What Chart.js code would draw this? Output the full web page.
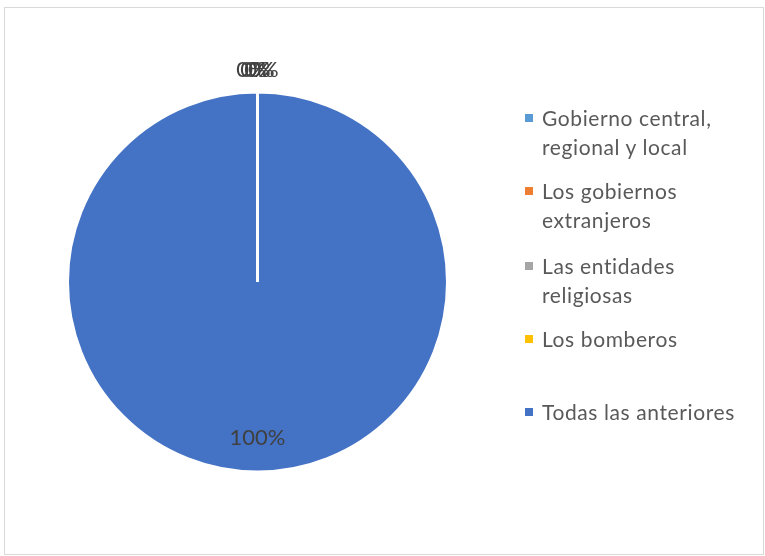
<!DOCTYPE html>
<html>
<head>
<meta charset="utf-8">
<script src="https://cdn.jsdelivr.net/npm/chart.js@4"></script>
<style>
  body { margin: 0; background: #fff; }
  #wrap { position: relative; width: 765px; height: 556px; }
  #frame { position: absolute; left: 4px; top: 7px; width: 760px; height: 548px; box-sizing: border-box; border: 1px solid #d9d9d9; }
  #chart { position: absolute; left: 0; top: 0; }
  #legend { position: absolute; left: 525px; top: 103px; margin: 0; padding: 0; list-style: none;
            font-family: Lato, "Open Sans", sans-serif; font-size: 21px; letter-spacing: 0.6px; color: #595959; }
  #legend li { position: relative; padding-left: 17px; line-height: 29px; }
  #legend li span.box { position: absolute; left: 0; top: 11px; width: 8px; height: 8px; }
</style>
</head>
<body>
<div id="wrap">
  <div id="frame"></div>
  <canvas id="chart" width="765" height="556"></canvas>
  <ul id="legend"></ul>
</div>
<script>
// categorias y valores (porcentaje)
const categorias = [
  ['Gobierno central,', 'regional y local'],
  ['Los gobiernos', 'extranjeros'],
  ['Las entidades', 'religiosas'],
  ['Los bomberos'],
  ['Todas las anteriores']
];
const valores = [0, 0, 0, 0, 100];
const colores = ['#5B9BD5', '#ED7D31', '#A5A5A5', '#FFC000', '#4472C4'];
// espacio entre entradas de la leyenda (px)
const legendGaps = [15, 17, 15, 44, 0];

// etiquetas de datos tipo Excel
const etiquetas = {
  id: 'etiquetas',
  afterDatasetsDraw(chart) {
    const ctx = chart.ctx;
    const meta = chart.getDatasetMeta(0);
    ctx.save();
    ctx.font = '22px Lato, "Open Sans", sans-serif';
    ctx.fillStyle = '#404040';
    ctx.textAlign = 'center';
    ctx.textBaseline = 'middle';
    meta.data.forEach((arc, i) => {
      const v = valores[i];
      const mid = (arc.startAngle + arc.endAngle) / 2;
      let r, dx = 0;
      if (v === 0) {
        r = arc.outerRadius + 22;
        dx = (i - 1.5) * 4;   // Excel apila los 0% con un pequeño desfase
      } else {
        r = arc.outerRadius * 0.82;
      }
      const x = arc.x + Math.cos(mid) * r + dx;
      const y = arc.y + Math.sin(mid) * r;
      ctx.fillText(v + '%', x, y);
    });
    ctx.restore();
  }
};

new Chart(document.getElementById('chart'), {
  type: 'pie',
  data: {
    labels: categorias.map(c => c.join(' ')),
    datasets: [{
      data: valores,
      backgroundColor: colores,
      borderColor: '#ffffff',
      borderWidth: 3
    }]
  },
  options: {
    responsive: false,
    animation: false,
    layout: { padding: { left: 66, top: 90, right: 316, bottom: 82 } },
    plugins: {
      legend: { display: false },
      tooltip: { enabled: false }
    }
  },
  plugins: [etiquetas]
});

// leyenda en HTML
const ul = document.getElementById('legend');
categorias.forEach((c, i) => {
  const li = document.createElement('li');
  li.style.marginBottom = legendGaps[i] + 'px';
  const box = document.createElement('span');
  box.className = 'box';
  box.style.background = colores[i];
  li.appendChild(box);
  c.forEach((line, k) => {
    if (k > 0) li.appendChild(document.createElement('br'));
    li.appendChild(document.createTextNode(line));
  });
  ul.appendChild(li);
});
</script>
</body>
</html>
